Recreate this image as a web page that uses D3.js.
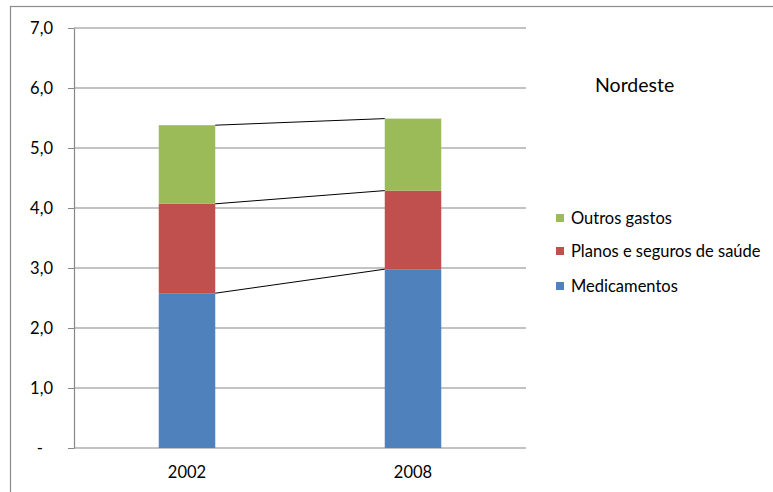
<html>
<head>
    <meta charset="utf-8">
    <style>
        body { margin: 0; background: #fff; }
        text { font-family: Lato, "Open Sans", sans-serif; fill: #000; }
        .grid line { stroke: #888; stroke-width: 1.2; }
        .axis path, .axis line { stroke: #888; }
    </style>
    <script src="https://d3js.org/d3.v7.min.js"></script>
</head>
<body>
<svg width="773" height="492"></svg>
<script>
    // data
    var years = ['2002', '2008'];
    var seriesNames = ['Medicamentos', 'Planos e seguros de saúde', 'Outros gastos'];
    var medicamentos = [2.58, 2.98];
    var planos = [1.49, 1.31];
    var outros = [1.31, 1.20];
    var yTicks = [0, 1, 2, 3, 4, 5, 6, 7];
    var colors = ['#4f81bd', '#c0504d', '#9bbb59'];
    var title = 'Nordeste';

    var svg = d3.select('svg');
    var margin = { top: 28, left: 74 };
    var width = 452, height = 420;

    // outer chart border (runs off the picture)
    svg.append('rect')
        .attr('x', 10.5).attr('y', 6.5)
        .attr('width', 800).attr('height', 520)
        .attr('fill', 'none').attr('stroke', '#8c8c8c').attr('stroke-width', 1.2);

    var grp = svg.append('g')
        .attr('transform', 'translate(' + margin.left + ',' + margin.top + ')');

    var x = d3.scaleBand().domain(years).range([0, width]).paddingInner(0.75).paddingOuter(0.375);
    var y = d3.scaleLinear().domain([0, 7]).range([height, 0]);

    // gridlines
    grp.append('g').attr('class', 'grid')
        .selectAll('line').data(yTicks).enter().append('line')
        .attr('x1', 0).attr('x2', width)
        .attr('y1', function(d) { return y(d); })
        .attr('y2', function(d) { return y(d); });

    // y axis
    var yAxis = grp.append('g').attr('class', 'axis')
        .call(d3.axisLeft(y).tickValues(yTicks).tickSize(6).tickSizeOuter(0)
            .tickFormat(function(d) { return d === 0 ? '-' : d3.format('.1f')(d).replace('.', ','); }));
    yAxis.selectAll('text')
        .attr('x', function(d) { return d === 0 ? -31 : -21; })
        .style('font-size', '16.5px').attr('dy', '0.35em');
    yAxis.select('.domain').attr('stroke-width', 1.2);

    // x labels
    grp.append('g').selectAll('text').data(years).enter().append('text')
        .attr('x', function(d) { return x(d) + x.bandwidth() / 2; })
        .attr('y', height + 30)
        .attr('text-anchor', 'middle')
        .style('font-size', '16.5px')
        .text(function(d) { return d; });

    // stacked data
    var rows = years.map(function(yr, i) {
        return { year: yr, 'Medicamentos': medicamentos[i], 'Planos e seguros de saúde': planos[i], 'Outros gastos': outros[i] };
    });
    var stack = d3.stack().keys(seriesNames)(rows);

    var layers = grp.selectAll('.layer').data(stack).enter().append('g')
        .attr('fill', function(d, i) { return colors[i]; });
    layers.selectAll('rect').data(function(d) { return d; }).enter().append('rect')
        .attr('x', function(d) { return x(d.data.year); })
        .attr('y', function(d) { return y(d[1]); })
        .attr('width', x.bandwidth())
        .attr('height', function(d) { return y(d[0]) - y(d[1]); });

    // series lines between bars
    stack.forEach(function(s) {
        grp.append('line')
            .attr('x1', x(years[0]) + x.bandwidth()).attr('y1', y(s[0][1]))
            .attr('x2', x(years[1])).attr('y2', y(s[1][1]))
            .attr('stroke', '#000').attr('stroke-width', 1);
    });

    // title
    svg.append('text').attr('x', 595).attr('y', 92)
        .style('font-size', '19.5px').text(title);

    // legend (reverse order)
    var legendY = [218, 251, 286];
    var legendItems = seriesNames.slice().reverse();
    var lg = svg.append('g').selectAll('g').data(legendItems).enter().append('g')
        .attr('transform', function(d, i) { return 'translate(556,' + legendY[i] + ')'; });
    lg.append('rect').attr('x', 0).attr('y', -4).attr('width', 8).attr('height', 8)
        .attr('fill', function(d) { return colors[seriesNames.indexOf(d)]; });
    lg.append('text').attr('x', 15).attr('dy', '0.35em')
        .style('font-size', '16.5px').text(function(d) { return d; });
</script>
</body>
</html>
